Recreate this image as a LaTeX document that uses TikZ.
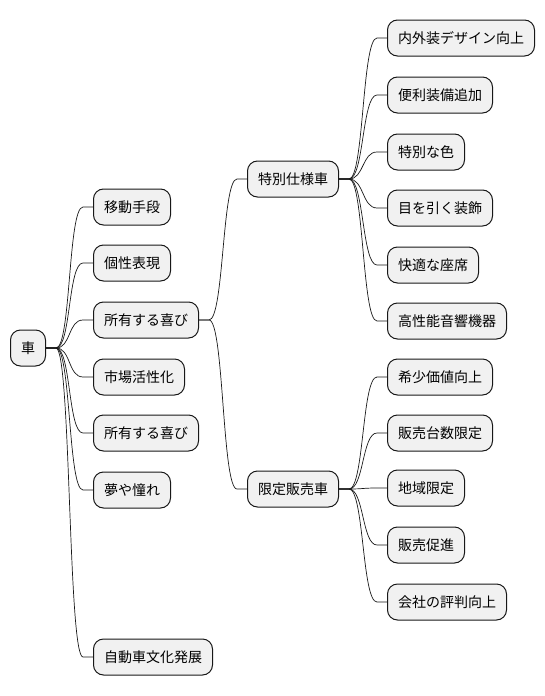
\documentclass[tikz,border=0pt]{standalone}
\usepackage{fontspec}
\setmainfont{Noto Sans CJK JP}
\definecolor{boxfill}{HTML}{F1F1F1}
\definecolor{boxline}{HTML}{181818}
\tikzset{
  mm/.style={draw=boxline, fill=boxfill, line width=1pt, rounded corners=10pt,
    minimum height=36pt, inner xsep=10.5pt, inner ysep=0pt, anchor=west,
    font=\fontsize{14pt}{16pt}\selectfont},
  branch/.style={to path={-- ++(10pt,0) .. controls +(15pt,0) and +(-15pt,0) .. ([xshift=-10pt]\tikztotarget.west) -- (\tikztotarget.west)}},
  link/.style={draw=boxline, line width=0.7pt}
}
\begin{document}
\begin{tikzpicture}[x=1pt,y=-1pt]
\useasboundingbox (0,0) rectangle (544,696);
\node[mm] (root) at (10,348) {車};
\node[mm] (a1) at (93,207) {移動手段};
\node[mm] (a2) at (93,263) {個性表現};
\node[mm] (a3) at (93,320) {所有する喜び};
\node[mm] (a4) at (93,377) {市場活性化};
\node[mm] (a5) at (93,433) {所有する喜び};
\node[mm] (a6) at (93,490) {夢や憧れ};
\node[mm] (a7) at (93,657) {自動車文化発展};
\node[mm] (b1) at (247,179) {特別仕様車};
\node[mm] (b2) at (247,489) {限定販売車};
\node[mm] (c1) at (387,38) {内外装デザイン向上};
\node[mm] (c2) at (387,95) {便利装備追加};
\node[mm] (c3) at (387,152) {特別な色};
\node[mm] (c4) at (387,208) {目を引く装飾};
\node[mm] (c5) at (387,265) {快適な座席};
\node[mm] (c6) at (387,321) {高性能音響機器};
\node[mm] (d1) at (387,377) {希少価値向上};
\node[mm] (d2) at (387,433) {販売台数限定};
\node[mm] (d3) at (387,488) {地域限定};
\node[mm] (d4) at (387,545) {販売促進};
\node[mm] (d5) at (387,602) {会社の評判向上};
\foreach \t in {a1,a2,a3,a4,a5,a6,a7}
  \draw[link] (root.east) to[branch] (\t);
\foreach \t in {b1,b2}
  \draw[link] (a3.east) to[branch] (\t);
\foreach \t in {c1,c2,c3,c4,c5,c6}
  \draw[link] (b1.east) to[branch] (\t);
\foreach \t in {d1,d2,d3,d4,d5}
  \draw[link] (b2.east) to[branch] (\t);
\end{tikzpicture}
\end{document}
